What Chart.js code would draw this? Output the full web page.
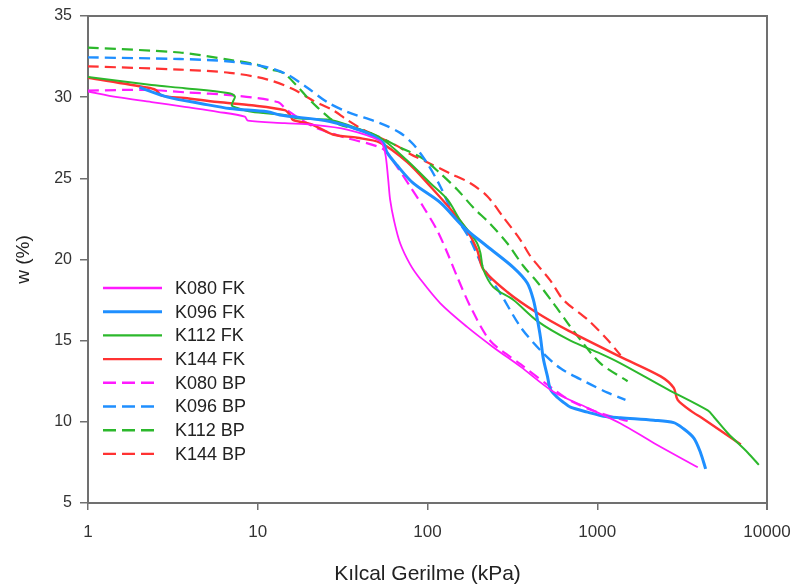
<!DOCTYPE html>
<html><head><meta charset="utf-8">
<script src="https://cdn.jsdelivr.net/npm/chart.js@4.4.0/dist/chart.umd.min.js"></script>
<style>html,body{margin:0;padding:0;background:#fff}#wrap{width:792px;height:587px;position:relative}</style>
</head><body><div id="wrap"><canvas id="c" width="792" height="587"></canvas></div>
<script>
// ---- data (x = Kılcal Gerilme kPa, w = %) ----
const seriesNames = ["K080 FK","K096 FK","K112 FK","K144 FK","K080 BP","K096 BP","K112 BP","K144 BP"];
const xTickValues = [1,10,100,1000,10000];
const yTickValues = [5,10,15,20,25,30,35];

const k080FK_x = [1,1.49,2.37,3.71,5.81,8.39,8.74,14.4,21.1,33.6,52.5,56.2,58.6,60.2,63.5,69,79,90.5,119,171,244,353,552,877,1372,2150,3910];
const k080FK_w = [30.35,30.0,29.7,29.4,29.1,28.8,28.55,28.4,28.3,28.0,27.3,26.6,25.0,23.7,22.4,21.0,19.7,18.8,17.3,15.85,14.6,13.4,11.85,10.86,9.9,8.7,7.2];

const k096FK_x = [2.01,2.95,4.68,6.84,11.4,13.5,26.6,41.7,54.8,57.7,66.2,82.4,119,163,225,321,387,421,444,463,481,509,530,583,633,695,877,1089,1372,2150,2820,3200,3706,4060,4350];
const k096FK_w = [30.6,30.0,29.6,29.3,29.1,28.9,28.5,27.9,27.2,26.6,25.8,24.7,23.5,22.0,20.8,19.5,18.55,17.5,16.3,15.2,13.9,12.8,12.0,11.5,11.2,10.9,10.6,10.35,10.25,10.1,9.95,9.6,9.0,8.1,7.1];

const k112FK_x = [1,2.37,3.71,6.66,7.33,7.2,7.03,7.5,9.22,14.4,17.0,26.6,33.6,52.5,75.9,104,131,156,179,196,205,213,244,321,444,695,1045,1372,2600,4477,4865,5880,7710,8950];
const k112FK_w = [31.25,30.75,30.55,30.25,30.05,29.8,29.5,29.35,29.1,28.9,28.7,28.6,28.3,27.5,26.1,24.7,23.7,22.4,21.6,21.0,20.4,19.4,18.3,17.5,16.2,15.0,14.2,13.6,12.0,10.7,10.3,9.3,8.1,7.35];

const k144FK_x = [1,2.21,2.5,2.72,3.71,5.81,9.22,14.4,15.5,16.1,21.1,27.7,38.5,52.5,75.9,104,142,171,196,213,295,444,680,1372,2365,2820,2980,3706,4060,7010];
const k144FK_w = [31.2,30.6,30.45,30.1,29.95,29.7,29.5,29.2,28.9,28.6,28.3,27.7,27.5,27.2,26.0,24.5,22.9,21.8,20.6,19.4,18.0,16.7,15.6,14.0,12.8,12.1,11.35,10.55,10.3,8.6];

const k080BP_x = [1,2.21,3.71,7.33,13.1,14.9,21.1,31.8,54.8,66.2,79,94.4,114,131,150,179,234,353,530,695,1000,1510];
const k080BP_w = [30.4,30.45,30.3,30.1,29.7,29.2,28.2,27.55,26.8,25.7,24.5,23.25,21.8,20.4,18.9,17.1,15.0,13.55,12.15,11.3,10.6,10.05];

const k096BP_x = [1,3.47,6.84,11.3,14.9,19.5,25.6,33.6,52.5,69,82.4,100,119,136,156,179,213,269,353,463,607,877,1150,1466];
const k096BP_w = [32.45,32.35,32.2,31.85,31.4,30.6,29.7,29.1,28.4,27.8,27.1,25.9,24.5,23.2,22.2,21.2,19.5,17.9,15.85,14.4,13.3,12.4,11.8,11.35];

const k112BP_x = [1,3.47,6.84,10,11.3,14.1,17.7,19.5,22.3,26.6,30.5,45.9,69,94.4,119,150,186,234,295,367,444,552,668,796,1045,1510];
const k112BP_w = [33.05,32.75,32.3,32.0,31.75,31.5,30.5,30.0,29.4,28.7,28.3,27.8,26.9,26.2,25.3,24.3,23.2,22.2,21.0,19.6,18.6,17.3,16.1,15.05,13.6,12.5];

const k144BP_x = [1,3.47,6.84,11.3,16.1,21.1,27.7,33.6,41.7,52.5,66.2,79,103.8,136,179,225,280,353,404,530,633,877,1150,1372];
const k144BP_w = [31.9,31.7,31.5,31.1,30.5,29.8,29.2,28.6,28.0,27.5,27.0,26.5,25.9,25.3,24.7,23.9,22.6,21.2,20.2,18.7,17.5,16.3,15.05,14.1];

// ---- styles ----
const MAG = '#ff1aff', BLU = '#1f8fff', GRN = '#2cb82c', RED = '#ff3232';
const seriesX = [k080FK_x,k096FK_x,k112FK_x,k144FK_x,k080BP_x,k096BP_x,k112BP_x,k144BP_x];
const seriesW = [k080FK_w,k096FK_w,k112FK_w,k144FK_w,k080BP_w,k096BP_w,k112BP_w,k144BP_w];
const colors = [MAG,BLU,GRN,RED,MAG,BLU,GRN,RED];
const widths = [1.8,3,2,2.4,2.2,2.4,2.2,2.2];
const dashes = [[],[],[],[],[11,6],[11,6],[11,6],[11,6]];
const FONT = '"Liberation Sans", Arial, sans-serif';

const datasets = seriesNames.map((name,i)=>({
  label: name,
  data: seriesX[i].map((x,j)=>({x:x, y:seriesW[i][j]})),
  borderColor: colors[i],
  backgroundColor: colors[i],
  borderWidth: widths[i],
  borderDash: dashes[i],
  pointRadius: 0,
  tension: 0.3,
  fill: false,
  order: i<4 ? 0 : 1
}));

const AX = '#707070';
const framePlugin = {
  id:'frame',
  afterDraw(chart){
    const {ctx, chartArea:a} = chart;
    ctx.save();
    ctx.strokeStyle = AX; ctx.lineWidth = 2;
    ctx.beginPath();
    ctx.moveTo(a.left, a.top); ctx.lineTo(a.right, a.top); ctx.lineTo(a.right, a.bottom+7);
    ctx.stroke();
    // legend inside the plot area
    ctx.font = '18px ' + FONT;
    ctx.textBaseline = 'middle';
    ctx.fillStyle = '#222';
    seriesNames.forEach((n,i)=>{
      const y = 288 + i*23.7;
      ctx.beginPath();
      ctx.strokeStyle = colors[i];
      ctx.lineWidth = i===1 ? 3 : 2.4;
      ctx.setLineDash(i<4 ? [] : [13,6]);
      ctx.moveTo(103, y); ctx.lineTo(i<4 ? 162 : 158, y);
      ctx.stroke();
      ctx.setLineDash([]);
      ctx.fillText(n, 175, y+1);
    });
    ctx.restore();
  }
};

new Chart(document.getElementById('c'), {
  type: 'line',
  data: { datasets },
  options: {
    responsive: false,
    animation: false,
    events: [],
    devicePixelRatio: 1,
    layout: { padding: { left: 0, right: 25, top: 16, bottom: 0 } },
    plugins: { legend: { display: false }, tooltip: { enabled: false } },
    scales: {
      x: {
        type: 'logarithmic',
        min: 1, max: 10000,
        afterBuildTicks(s){ s.ticks = xTickValues.map(v=>({value:v})); },
        afterFit(s){ s.height = 84; s.paddingLeft = 0; s.paddingRight = 0; },
        ticks: { callback: v => String(v), color:'#333', padding: 12, maxRotation: 0, autoSkip: false,
                 font: { family: FONT, size: 17 } },
        grid: { drawOnChartArea: false, drawTicks: true, tickLength: 7, color: AX, lineWidth: 1.5 },
        border: { display: true, color: AX, width: 2 },
        title: { display: true, text: 'Kılcal Gerilme (kPa)', color:'#222',
                 font: { family: FONT, size: 21 }, padding: { top: 0, bottom: 0 } }
      },
      y: {
        type: 'linear',
        min: 5, max: 35,
        afterBuildTicks(s){ s.ticks = yTickValues.map(v=>({value:v})); },
        afterFit(s){ s.width = 88; s.paddingTop = 0; s.paddingBottom = 0; },
        ticks: { color:'#333', padding: 8,
                 font: { family: FONT, size: 16 } },
        grid: { drawOnChartArea: false, drawTicks: true, tickLength: 8, color: AX, lineWidth: 1.5 },
        border: { display: true, color: AX, width: 2 },
        title: { display: true, text: 'w (%)', color:'#222',
                 font: { family: FONT, size: 19 }, padding: { top: 12, bottom: 0 } }
      }
    }
  },
  plugins: [framePlugin]
});
</script>
</body></html>
